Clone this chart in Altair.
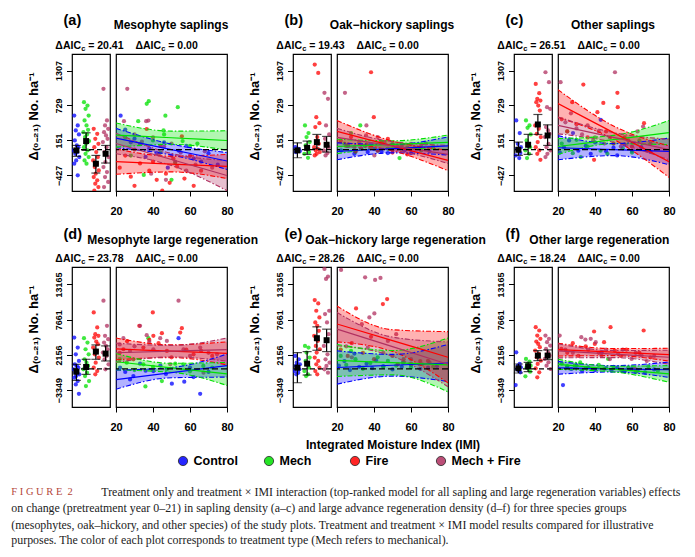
import altair as alt
import pandas as pd

FONT = "Liberation Sans"
SERIF = "Liberation Serif"

TRTS = ["Control", "Mech", "Fire", "Mech + Fire"]
COLORS = ["#0000FF", "#00E000", "#FF0000", "#B03060"]
IMI_GRID = [20, 50, 80]
JITTER = [-0.22, 0.14, -0.06, 0.26, -0.16, 0.04, 0.2, -0.28, 0.09, -0.11, 0.3, -0.02]

ROW1_DOMAIN = [-686, 1581]
ROW1_TICKS = [-427, 151, 729, 1307]
ROW2_DOMAIN = [-5968, 15894]
ROW2_TICKS = [-3349, 2156, 7661, 13165]
X_TICKS = [20, 40, 60, 80]

LETTERS = ["(a)", "(b)", "(c)", "(d)", "(e)", "(f)"]
TITLES = ["Mesophyte saplings", "Oak\u2212hickory saplings", "Other saplings",
          "Mesophyte large regeneration", "Oak\u2212hickory large regeneration",
          "Other large regeneration"]
AIC_TRT = ["20.41", "19.43", "26.51", "23.78", "28.26", "18.24"]
AIC_INT = ["0.00", "0.00", "0.00", "0.00", "0.00", "0.00"]
YTITLE = "\u0394\u208d\u2080\u208b\u2082\u2081\u208e No. ha\u207b\u00b9"

# ---------------- panel (a) ----------------
A_N_CONTROL = [563, 398, 316, 250, 150, 68, 40, -14, -42, -70, -125, -180, -235, -427]
A_N_MECH = [784, 728, 673, 563, 481, 398, 327, 288, 250, 206, 140, 95, 40, -14, -70, -125, -180, -235]
A_N_FIRE = [343, 261, 178, 95, 40, -42, -125, -180, -235, -290, -345, -400, -455, -510, -565, -620, -680]
A_N_MF = [1004, 481, 398, 343, 288, 233, 178, 123, 40, -42, -125, -207, -290, -372, -455, -537, -620]
A_MEAN = [-14, 140, -235, -70]
A_CI_LO = [-113, -14, -389, -223]
A_CI_HI = [68, 277, -97, 68]
A_W_CONTROL = [(22.5, 560), (25, 330), (28, 120), (30, 180), (33, 90), (36, -120), (38, 20), (42, -60),
               (46, 120), (48, -300), (50, -100), (54, -20), (58, 60), (62, -150), (66, -200), (70, -60), (75, -250)]
A_W_MECH = [(25, 200), (28, -100), (32, 470), (36.6, 756), (37.7, 800), (40, 150), (44, -50), (45.7, 316),
            (46, 250), (46.7, 560), (52, -220), (53.4, 700), (56, 140), (60, 60), (64, 100), (35, -420), (50, -500)]
A_W_FIRE = [(22, -300), (25, -100), (28, -450), (30, 0), (30, -600), (33, -230), (36.6, 340), (38, -350),
            (40, -200), (42, -500), (44, 60), (45, -680), (47, -400), (49, -550), (51, -150), (53, -280),
            (55.6, 220), (57, -480), (60, -100), (62, -600), (66, -350)]
A_W_MF = [(24.3, 470), (26.1, 1004), (30, 250), (34, 130), (36.3, 470), (37.5, 480), (39, -400), (40, 200),
          (43, -80), (46, 50), (47, -500), (50, 100), (52, -200), (55, -50), (58, -350), (63, -250), (68, -30), (72, -300)]
A_FIT = [[190, 0, -190], [240, 195, 150], [-200, -240, -280], [100, -165, -430]]
A_LO = [[30, -90, -330], [40, 85, -10], [-410, -370, -480], [-70, -265, -680]]
A_HI = [[350, 90, -50], [440, 305, 310], [10, -110, -80], [270, -65, -180]]

# ---------------- panel (b) ----------------
B_N_CONTROL = [40, 13, -14, -25, -42]
B_N_MECH = [398, 272, 206, 123, 68, 13, -42, -70, -136]
B_N_FIRE = [1406, 1268, 536, 437, 371, 206, 95, 40, 13, -14, -42, -70, -97]
B_N_MF = [938, 839, 398, 250, 178, 95, 40, -14, -59, -97]
B_MEAN = [-14, 29, 123, 79]
B_CI_LO = [-136, -81, 13, -42]
B_CI_HI = [112, 140, 250, 217]
B_W_CONTROL = [(22.2, -14), (26, 60), (29.4, -70), (33, 20), (36.6, -42), (40, 10), (44, -30), (47.5, -59),
               (52, 30), (56.5, -14), (60, -60), (65, 20), (70, -30)]
B_W_MECH = [(24, 100), (27.6, 272), (30, -40), (32.6, 398), (35, 60), (38.4, 40), (42, -20), (47.5, 13),
            (50, 90), (53.8, -141), (58, 30), (65.5, -14), (72, 50)]
B_W_FIRE = [(22, 150), (25, 60), (27.6, 206), (30, -30), (33, 13), (36, 80), (38.4, 1279), (39.9, 536),
            (42, -20), (44, 120), (47.5, 178), (50, -50), (53, 40), (58, -80), (62, 20)]
B_W_MF = [(24.3, 938), (26, 80), (29.4, 40), (32, 120), (35.7, 233), (35.9, 398), (38, 20), (40.2, -97),
          (42, 206), (45.7, 123), (50, 0), (55, 60), (60, 95), (62, 30), (65.5, 51), (68, 100)]
B_FIT = [[-30, 15, 60], [50, 85, 120], [300, 60, -180], [200, 60, -80]]
B_LO = [[-170, -55, -90], [-70, 25, 0], [120, -20, -350], [50, -10, -230]]
B_HI = [[110, 85, 210], [170, 145, 240], [480, 140, -10], [350, 130, 70]]

# ---------------- panel (c) ----------------
C_N_CONTROL = [481, 272, 95, 40, 13, -14, -59, -97, -141]
C_N_MECH = [481, 398, 360, 250, 150, 95, 40, -14, -70, -141]
C_N_FIRE = [1086, 932, 839, 811, 784, 728, 646, 398, 343, 261, 206, 123, 40, -14, -70, -169]
C_N_MF = [1279, 1114, 701, 673, 371, 316, 261, 206, 95, 40, -14, -70, -125]
C_MEAN = [-4, 79, 415, 233]
C_CI_LO = [-97, -81, 250, 68]
C_CI_HI = [123, 250, 580, 409]
C_W_CONTROL = [(21, -50), (23.2, 40), (26, 150), (28.1, 272), (31, -20), (35, 60), (37.7, -70), (40, 120),
               (43.1, 492), (46, -30), (50, 30), (52, -97), (56, 80), (60, -20), (65, 40), (70, -40)]
C_W_MECH = [(22, 100), (25, 300), (28, -60), (30, 160), (32.3, -125), (36, 50), (40, 200), (43, -20),
            (46.7, -70), (50, 100), (55, 20), (60, -50), (64, 150)]
C_W_FIRE = [(22, 500), (25, 300), (27.7, 784), (30, 420), (33.7, 1075), (36, 200), (39.5, -169), (41.3, 618),
            (44.5, 772), (46, 300), (50, 100), (52.1, 938), (52.3, 701), (56, 200), (60, 50), (66.5, 437), (68, -20)]
C_W_MF = [(21.4, 1114), (24, 450), (27, 600), (30, 350), (33, 250), (36, 400), (39, 150), (42, 300),
          (45, 100), (48, 200), (50.8, 1279), (54, 50), (58, 150), (63, 300), (66, 380), (70, 100)]
C_FIT = [[30, 0, -30], [50, 165, 280], [760, 280, -200], [400, 200, 0]]
C_LO = [[-170, -100, -250], [-80, 95, 80], [530, 170, -460], [260, 120, -170]]
C_HI = [[230, 100, 190], [180, 235, 480], [990, 390, 60], [540, 280, 170]]

# ---------------- panel (d) ----------------
D_N_CONTROL = [4879, 3311, 2265, 1220, 697, 436, 174, -88, -349, -610, -872, -1133, -1395, -1917, -2440, -3904]
D_N_MECH = [4775, 4095, 3050, 2265, 1481, 959, 436, -88, -610, -1133, -1917, -2701]
D_N_FIRE = [8801, 6448, 5402, 5141, 4879, 4254, 3834, 3311, 2788, 2265, 1743, 959, 174, -349, -872]
D_N_MF = [10630, 6709, 5141, 4618, 4095, 3572, 3050, 2527, 2004, 1481, 697, -88]
D_MEAN = [-453, 279, 2684, 2370]
D_CI_LO = [-1812, -872, 1481, 1220]
D_CI_HI = [697, 1481, 3727, 3572]
D_W_CONTROL = [(22.2, 174), (25, -500), (27.6, -1656), (29.4, -1133), (33, 800), (36, -300), (40.2, -349),
               (44, 500), (47, -800), (50.2, -2336), (53.8, 4775), (56.9, -2022), (60, 200), (61.9, -1290),
               (65.5, -3904), (70, -500)]
D_W_MECH = [(22, 1500), (25.8, 959), (30, -200), (34.8, 697), (35.9, -2753), (37.5, 4775), (40, 300),
            (44.8, -1917), (47.5, -88), (52, 800), (56.5, 697), (60, -400), (67.2, 436), (72, 200)]
D_W_FIRE = [(22, 2500), (24, 3050), (26, 4300), (29.4, 1481), (32.6, 6709), (34.8, 3311), (38, 4500),
            (39.9, 8801), (40.2, 5141), (43, 3990), (44.8, 5559), (47.5, 2788), (50, 1800), (54.7, 5664),
            (55.6, 6343), (58, 3000), (61.9, 2265), (66, 2800), (72, 2000)]
D_W_MF = [(22, 3800), (24, 4775), (27.6, 2788), (30, 3500), (33, 6709), (36.6, 5246), (38, 4200), (40.2, 3050),
          (43.9, 4775), (47.5, 4357), (49.3, 697), (53.8, 10630), (56.5, 3050), (60, 2000), (65.5, 3311),
          (67.3, -610), (70, 2500), (74.6, 2265)]
D_FIT = [[-1700, -600, 500], [1100, 150, -800], [3100, 2750, 2400], [2500, 2750, 3000]]
D_LO = [[-3200, -1400, -1300], [-200, -550, -2600], [1400, 1750, 600], [1000, 1850, 1200]]
D_HI = [[-200, 200, 2300], [2400, 850, 1000], [4800, 3750, 4200], [4000, 3650, 4800]]

# ---------------- panel (e) ----------------
E_N_CONTROL = [2004, 1481, 959, 697, 436, 174, -88, -349, -610, -872]
E_N_MECH = [3572, 3311, 2527, 1743, 1220, 697, 174, -349, -872, -1133]
E_N_FIRE = [10735, 10212, 9062, 8017, 7232, 6709, 5925, 5141, 4357, 3572, 3050, 2527, 1743, 1220, 697, 174, -349, -872]
E_N_MF = [15597, 14394, 14028, 9062, 8539, 7232, 5402, 3572, 2265, 1481, 959, 436, -88, -610]
E_MEAN = [174, 802, 4775, 4461]
E_CI_LO = [-2178, -976, 2893, 2684]
E_CI_HI = [2527, 2684, 6552, 6186]
E_W_CONTROL = [(21, 500), (24, 1200), (27, -200), (29.4, 2370), (32, 300), (36, 800), (39, 100), (41.1, 1325),
               (45, 400), (50, -100), (55, 300), (60, 600), (65, 0), (69.2, 174), (74, 400)]
E_W_MECH = [(22, 2000), (25, 600), (27.6, 2788), (30, 1500), (34, 0), (38, 900), (42, 1800), (45, 300),
            (47.5, 1220), (52, 500), (56, 1000), (60, 200), (66, 700), (72, 300)]
E_W_FIRE = [(22, 3000), (25.8, 2004), (28, 4000), (30.3, 9428), (34, 2500), (38.4, 4984), (40, 1500),
            (44.8, 10107), (47.1, 10891), (50, 2000), (52.9, 697), (56, 1500), (60, 800), (65, 1200), (69.2, 1220)]
E_W_MF = [(22.2, 15440), (25, 3500), (28, 1800), (33.4, 6970), (35.2, 14290), (36.6, 3311), (37.5, 8017),
          (40.2, 8644), (40.6, 13872), (43.5, 14185), (45, 2500), (47.5, 4357), (52, 5402), (55.6, 959),
          (60, 1500), (64.6, 697), (70, 1000)]
E_FIT = [[200, 550, 900], [1300, 950, 600], [7000, 4400, 1800], [6200, 3450, 700]]
E_LO = [[-2400, -1150, -2000], [-1200, -950, -3600], [4200, 2700, -2200], [3600, 1950, -2800]]
E_HI = [[2800, 2250, 3800], [3800, 2850, 4800], [9800, 6100, 5800], [8800, 4950, 4200]]

# ---------------- panel (f) ----------------
F_N_CONTROL = [2580, 750, 489, 227, -34, -295, -557, -2544]
F_N_MECH = [1534, 1116, 750, 489, 227, -34, -452, -1184]
F_N_FIRE = [6501, 5978, 5194, 4671, 4253, 3887, 3364, 2841, 2319, 1796, 1273, 750, 70, -557, -1341]
F_N_MF = [5194, 4671, 4149, 3626, 3103, 2580, 2057, 1534, 1012, 489, -34]
F_MEAN = [70, 384, 2057, 2057]
F_CI_LO = [-661, -452, 1273, 1430]
F_CI_HI = [750, 1012, 2841, 2946]
F_W_CONTROL = [(22.7, -2544), (25, 300), (27.2, -34), (30, 500), (33, -300), (36.3, 227), (40, -200),
               (43.5, 2580), (46, 100), (48.9, -295), (52, 200), (56, -400), (60, 0), (63, -300), (67, -557), (72, -100)]
F_W_MECH = [(22, 800), (25, 400), (29, 489), (32, 1000), (35, 100), (38.1, -34), (42, 600), (45, 0),
            (47.1, 1534), (50, 300), (54.3, -295), (58, 200), (62, -500), (68.8, 384), (74, -300)]
F_W_FIRE = [(21.8, 3103), (25, 2500), (28, 4000), (31, 2000), (35, 3500), (39.5, 5822), (39.9, 3887),
            (42, 2500), (44.9, 4149), (48.4, 6501), (50.7, 2841), (54, 2000), (57, 3000), (61.6, -34),
            (64, 2500), (66.3, 5978), (70, 1800)]
F_W_MF = [(20.9, 5194), (24, 3000), (28, 2500), (32.6, 4933), (34.8, 4567), (36.3, 3000), (37.7, 4671),
          (40.4, 4149), (43.5, 2057), (46, 3000), (48, 1500), (52.5, 2319), (55, 3000), (59.8, 1534),
          (62, 2500), (65.2, 2057), (68, 1200), (72, 2000)]
F_FIT = [[150, 0, -150], [700, -50, -800], [3000, 2600, 2200], [2800, 2300, 1800]]
F_LO = [[-850, -500, -1350], [-100, -500, -2100], [2000, 2050, 1200], [1700, 1750, 700]]
F_HI = [[1150, 500, 1050], [1500, 400, 500], [4000, 3150, 3200], [3900, 2850, 2900]]

CAPTION_LEAD = "F\u00a0I\u00a0G\u00a0U\u00a0R\u00a0E\u00a0\u00a02"
CAPTION_LINES = [
    "Treatment only and treatment \u00d7 IMI interaction (top-ranked model for all sapling and large regeneration variables) effects",
    "on change (pretreatment year 0\u201321) in sapling density (a\u2013c) and large advance regeneration density (d\u2013f) for three species groups",
    "(mesophytes, oak\u2013hickory, and other species) of the study plots. Treatment and treatment \u00d7 IMI model results compared for illustrative",
    "purposes. The color of each plot corresponds to treatment type (Mech refers to mechanical).",
]
X_TITLE = "Integrated Moisture Index (IMI)"

PANELS = [
    ([A_N_CONTROL, A_N_MECH, A_N_FIRE, A_N_MF], A_MEAN, A_CI_LO, A_CI_HI,
     [A_W_CONTROL, A_W_MECH, A_W_FIRE, A_W_MF], A_FIT, A_LO, A_HI),
    ([B_N_CONTROL, B_N_MECH, B_N_FIRE, B_N_MF], B_MEAN, B_CI_LO, B_CI_HI,
     [B_W_CONTROL, B_W_MECH, B_W_FIRE, B_W_MF], B_FIT, B_LO, B_HI),
    ([C_N_CONTROL, C_N_MECH, C_N_FIRE, C_N_MF], C_MEAN, C_CI_LO, C_CI_HI,
     [C_W_CONTROL, C_W_MECH, C_W_FIRE, C_W_MF], C_FIT, C_LO, C_HI),
    ([D_N_CONTROL, D_N_MECH, D_N_FIRE, D_N_MF], D_MEAN, D_CI_LO, D_CI_HI,
     [D_W_CONTROL, D_W_MECH, D_W_FIRE, D_W_MF], D_FIT, D_LO, D_HI),
    ([E_N_CONTROL, E_N_MECH, E_N_FIRE, E_N_MF], E_MEAN, E_CI_LO, E_CI_HI,
     [E_W_CONTROL, E_W_MECH, E_W_FIRE, E_W_MF], E_FIT, E_LO, E_HI),
    ([F_N_CONTROL, F_N_MECH, F_N_FIRE, F_N_MF], F_MEAN, F_CI_LO, F_CI_HI,
     [F_W_CONTROL, F_W_MECH, F_W_FIRE, F_W_MF], F_FIT, F_LO, F_HI),
]

# ---------------- layout constants ----------------
NARROW_W = 38
WIDE_W = 111
GAP_W = 54
ROW_H = [137, 140]
ONE = pd.DataFrame({"k": [0]})
ZERO = pd.DataFrame({"z": [0]})
COLOR_SCALE = alt.Scale(domain=TRTS, range=COLORS)
NO_STROKE = alt.ViewBackground(stroke="transparent")


def color_enc():
    return alt.Color("trt:N", scale=COLOR_SCALE, legend=None)


def label(text, x, y, size, weight="bold", align="center", font=FONT, color="black"):
    return alt.Chart(ONE).mark_text(align=align, baseline="middle", fontSize=size,
                                    fontWeight=weight, font=font, color=color).encode(
        x=alt.value(x), y=alt.value(y), text=alt.value(text))


def aic_label(value, cx, y):
    return [label("\u0394AIC", cx - 8.6, y, 10.5, align="right"),
            label("c", cx - 8.4, y + 3, 7.5, align="left"),
            label("= " + value, cx - 1.4, y, 10.5, align="left")]


def narrow_chart(i):
    lists, mean, lo, hi = PANELS[i][0], PANELS[i][1], PANELS[i][2], PANELS[i][3]
    row = 0 if i < 3 else 1
    ydom = ROW1_DOMAIN if row == 0 else ROW2_DOMAIN
    yticks = ROW1_TICKS if row == 0 else ROW2_TICKS
    rows = []
    for ti, vals in enumerate(lists):
        for j, v in enumerate(vals):
            rows.append({"trt": TRTS[ti], "pos": ti + 1 + JITTER[j % len(JITTER)], "value": v})
    pdf = pd.DataFrame(rows)
    mdf = pd.DataFrame({"trt": TRTS, "idx": [1, 2, 3, 4], "mean": mean, "lo": lo, "hi": hi})
    ysc = alt.Scale(domain=ydom, nice=False, zero=False)
    xsc = alt.Scale(domain=[0.55, 4.45], nice=False, zero=False)
    yaxis = alt.Axis(values=yticks, format="d", labelAngle=270, labelAlign="center", labelBaseline="bottom",
                     labelFont=FONT, labelFontSize=9, labelFontWeight="bold", labelColor="black",
                     tickSize=5.5, tickColor="black", labelPadding=3.5, domain=False, grid=False,
                     labelOverlap=False,
                     title=YTITLE, titleFont=FONT, titleFontSize=13, titleFontWeight="bold",
                     titleColor="black", titleAngle=270, titleAlign="center", titleBaseline="bottom",
                     titleX=-32, titleY=62)
    nx = alt.X("pos:Q", scale=xsc, axis=None)
    pts = alt.Chart(pdf).mark_circle(size=18, opacity=0.75, clip=True).encode(
        x=nx, y=alt.Y("value:Q", scale=ysc, axis=yaxis), color=color_enc())
    zero = alt.Chart(ZERO).mark_rule(color="black", strokeDash=[5, 3], strokeWidth=1.2).encode(
        y=alt.Y("z:Q", scale=ysc, axis=yaxis))
    ix = alt.X("idx:Q", scale=xsc, axis=None)
    bars = alt.Chart(mdf).mark_rule(color="black", strokeWidth=1.2).encode(
        x=ix, y=alt.Y("lo:Q", scale=ysc, axis=yaxis), y2="hi:Q")
    cap_lo = alt.Chart(mdf).mark_tick(orient="horizontal", size=9, thickness=1.2, color="black").encode(
        x=ix, y=alt.Y("lo:Q", scale=ysc, axis=yaxis))
    cap_hi = alt.Chart(mdf).mark_tick(orient="horizontal", size=9, thickness=1.2, color="black").encode(
        x=ix, y=alt.Y("hi:Q", scale=ysc, axis=yaxis))
    sq = alt.Chart(mdf).mark_square(size=36, color="black", opacity=1).encode(
        x=ix, y=alt.Y("mean:Q", scale=ysc, axis=yaxis))
    texts = aic_label(AIC_TRT[i], 17.6, -8.2)
    if row == 0:
        texts.append(label(LETTERS[i], -8.5, -32.7, 14.5, align="left"))
    else:
        texts.append(label(LETTERS[i], -8.5, -31.8, 14.5, align="left"))
        tx = [15.3, 12.3, 15.3][i - 3]
        texts.append(label(TITLES[i], tx, -27.3, 12, align="left"))
    return alt.layer(pts, zero, bars, cap_lo, cap_hi, sq, *texts).properties(
        width=NARROW_W, height=ROW_H[row])


def wide_chart(i):
    wlists, fits, los, his = PANELS[i][4], PANELS[i][5], PANELS[i][6], PANELS[i][7]
    row = 0 if i < 3 else 1
    ydom = ROW1_DOMAIN if row == 0 else ROW2_DOMAIN
    rows = []
    for ti, pairs in enumerate(wlists):
        for (x, v) in pairs:
            rows.append({"trt": TRTS[ti], "imi": x, "value": v})
    pdf = pd.DataFrame(rows)
    brows = []
    for ti in range(4):
        for k, x in enumerate(IMI_GRID):
            brows.append({"trt": TRTS[ti], "imi": x, "fit": fits[ti][k], "lo": los[ti][k], "hi": his[ti][k]})
    bdf = pd.DataFrame(brows)
    ysc = alt.Scale(domain=ydom, nice=False, zero=False)
    xsc = alt.Scale(domain=[20, 80], nice=False, zero=False)
    xaxis_kw = dict(values=X_TICKS, format="d", labelFont=FONT, labelFontSize=11, labelFontWeight="bold",
                    labelColor="black", tickSize=5, tickColor="black", labelPadding=9.5,
                    labelFlush=False, domain=False, grid=False, labelOverlap=False)
    if i == 4:
        xaxis = alt.Axis(title=X_TITLE, titleFont=FONT, titleFontSize=12, titleFontWeight="bold",
                         titleColor="black", titlePadding=6.5, **xaxis_kw)
    else:
        xaxis = alt.Axis(title=None, **xaxis_kw)
    wx = alt.X("imi:Q", scale=xsc, axis=xaxis)
    pts = alt.Chart(pdf).mark_circle(size=18, opacity=0.75, clip=True).encode(
        x=wx, y=alt.Y("value:Q", scale=ysc, axis=None), color=color_enc())
    area = alt.Chart(bdf).mark_area(opacity=0.3, interpolate="monotone", clip=True).encode(
        x=wx, y=alt.Y("lo:Q", scale=ysc, axis=None), y2="hi:Q", color=color_enc())
    lo_line = alt.Chart(bdf).mark_line(interpolate="monotone", strokeWidth=1.1, strokeDash=[5, 2, 1.5, 2],
                                       clip=True).encode(
        x=wx, y=alt.Y("lo:Q", scale=ysc, axis=None), color=color_enc())
    hi_line = alt.Chart(bdf).mark_line(interpolate="monotone", strokeWidth=1.1, strokeDash=[5, 2, 1.5, 2],
                                       clip=True).encode(
        x=wx, y=alt.Y("hi:Q", scale=ysc, axis=None), color=color_enc())
    fit_line = alt.Chart(bdf).mark_line(interpolate="monotone", strokeWidth=1.2, clip=True).encode(
        x=wx, y=alt.Y("fit:Q", scale=ysc, axis=None), color=color_enc())
    zero = alt.Chart(ZERO).mark_rule(color="black", strokeDash=[6, 3], strokeWidth=1.3).encode(
        y=alt.Y("z:Q", scale=ysc, axis=None))
    texts = aic_label(AIC_INT[i], 53.7, -8.2)
    if row == 0:
        texts.append(label(TITLES[i], 55, -29.2, 12, align="center"))
    return alt.layer(pts, area, lo_line, hi_line, fit_line, zero, *texts).properties(
        width=WIDE_W, height=ROW_H[row])


def gap(row):
    return label("", 0, 0, 10).properties(width=GAP_W, height=ROW_H[row], view=NO_STROKE)


LEG = pd.DataFrame({"trt": TRTS})
leg_x = alt.X("trt:N", scale=alt.Scale(type="point", domain=TRTS, range=[111, 369], padding=0),
              axis=None, sort=TRTS)
leg_pts = alt.Chart(LEG).mark_point(shape="circle", filled=True, size=85, stroke="black",
                                    strokeWidth=0.8, opacity=0.85).encode(
    x=leg_x, y=alt.value(-22), fill=alt.Color("trt:N", scale=COLOR_SCALE, legend=None))
leg_txt = alt.Chart(LEG).mark_text(align="left", baseline="middle", dx=10.5, fontSize=12.5,
                                   fontWeight="bold", font=FONT, color="black").encode(
    x=leg_x, y=alt.value(-22), text="trt:N")
CAP_SIZE = 11.9
cap = [label(CAPTION_LEAD, -60.7, 9, 10.5, weight="normal", align="left", font=SERIF, color="#B5473A"),
       label(CAPTION_LINES[0], 29.3, 9, CAP_SIZE, weight="normal", align="left", font=SERIF, color="#222222"),
       label(CAPTION_LINES[1], -60.7, 25, CAP_SIZE, weight="normal", align="left", font=SERIF, color="#222222"),
       label(CAPTION_LINES[2], -60.7, 41.5, CAP_SIZE, weight="normal", align="left", font=SERIF, color="#222222"),
       label(CAPTION_LINES[3], -60.7, 57, CAP_SIZE, weight="normal", align="left", font=SERIF, color="#222222")]
bottom = alt.layer(leg_pts, leg_txt, *cap).properties(width=NARROW_W, height=66, view=NO_STROKE)

cells = []
for r in range(2):
    for g in range(3):
        i = r * 3 + g
        cells.append(narrow_chart(i))
        cells.append(wide_chart(i))
        if g < 2:
            cells.append(gap(r))
cells.append(bottom)

chart = alt.concat(*cells, columns=8, spacing={"row": 76, "column": 6}, bounds="flush",
                   align="each").properties(
    padding={"left": 10, "top": 12, "right": 5, "bottom": 5}, background="white"
).configure_view(stroke="black", strokeWidth=1.2)

chart.save("out.html", embed_options={"renderer": "svg", "actions": False})
